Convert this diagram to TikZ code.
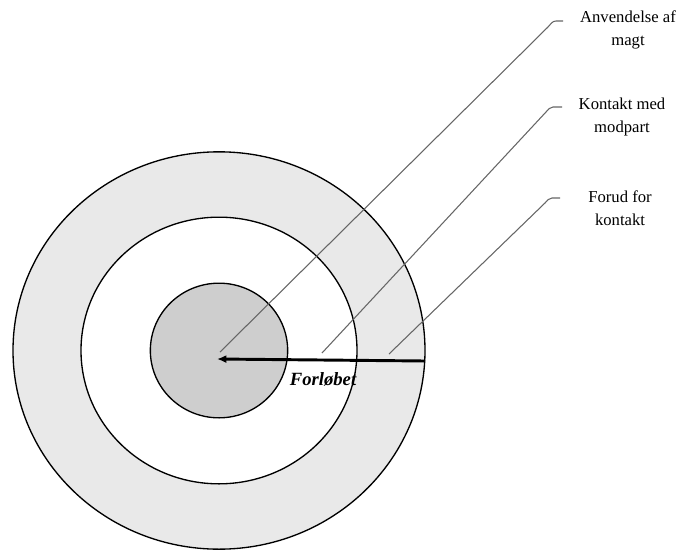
\documentclass[tikz,border=0pt]{standalone}
\usepackage{fontspec}
\setmainfont{Liberation Serif}
\usetikzlibrary{shapes.geometric,arrows.meta,positioning}
\definecolor{ringgray}{RGB}{233,233,233}
\definecolor{coregray}{RGB}{206,206,206}
\tikzset{
  zone/.style={ellipse, draw=black, line width=1pt, inner sep=0pt},
  zonetext/.style={align=center, font=\fontsize{12.5}{17}\selectfont},
  lead/.style={draw=black!60, line width=0.8pt},
  flow/.style={-{Latex[length=7pt,width=6pt]}, line width=2.2pt},
  flowtext/.style={font=\fontsize{14}{16}\selectfont\bfseries\itshape}
}
\begin{document}
\begin{tikzpicture}[x=0.75pt,y=-0.75pt]
\useasboundingbox (0,0) rectangle (682,550);
\coordinate (c) at (219,350.5);
% rings
\node[zone, fill=ringgray, minimum width=309pt, minimum height=298pt] (outer) at (c) {};
\node[zone, fill=white, minimum width=207pt, minimum height=200pt] (middle) at (c) {};
\node[zone, fill=coregray, minimum width=103pt, minimum height=101pt] (inner) at (c) {};
% labels
\node[zonetext] (magt) at (628,30) {Anvendelse af\\magt};
\node[zonetext] (modpart) at (622,117) {Kontakt med\\modpart};
\node[zonetext] (forud) at (620,208) {Forud for\\kontakt};
\coordinate (s1) at (220,352);
\coordinate (s2) at (322,353);
\coordinate (s3) at (389,354);
\coordinate (e1) at (563,21);
\coordinate (e2) at (562,107);
\coordinate (e3) at (560,198);
\draw[lead] (s1) -- (548,27) to[out=45,in=180] (556,21) -- (e1);
\draw[lead] (s2) -- (546,112) to[out=45,in=180] (553,107) -- (e2);
\draw[lead] (s3) -- (545,203) to[out=45,in=180] (552,198) -- (e3);
% course
\coordinate (tail) at (425,361);
\coordinate (tip) at (217,359);
\draw[flow] (tail) -- (tip);
\node[flowtext] (forloeb) at (323,379) {Forløbet};
\end{tikzpicture}
\end{document}
